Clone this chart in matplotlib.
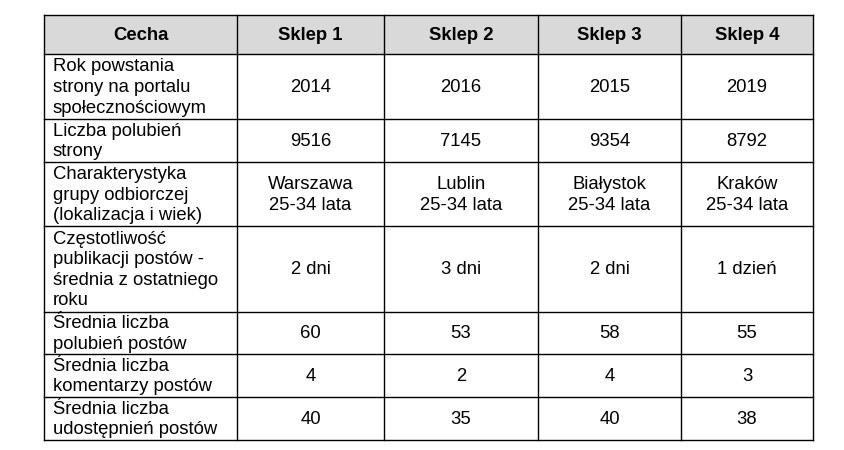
import matplotlib
matplotlib.use("Agg")
import matplotlib.pyplot as plt
from matplotlib.patches import Rectangle

header = ["Cecha", "Sklep 1", "Sklep 2", "Sklep 3", "Sklep 4"]
features = [
    "Rok powstania\nstrony na portalu\nspołecznościowym",
    "Liczba polubień\nstrony",
    "Charakterystyka\ngrupy odbiorczej\n(lokalizacja i wiek)",
    "Częstotliwość\npublikacji postów -\nśrednia z ostatniego\nroku",
    "Średnia liczba\npolubień postów",
    "Średnia liczba\nkomentarzy postów",
    "Średnia liczba\nudostępnień postów",
]
sklep1 = ["2014", "9516", "Warszawa\n25-34 lata", "2 dni", "60", "4", "40"]
sklep2 = ["2016", "7145", "Lublin\n25-34 lata", "3 dni", "53", "2", "35"]
sklep3 = ["2015", "9354", "Białystok\n25-34 lata", "2 dni", "58", "4", "40"]
sklep4 = ["2019", "8792", "Kraków\n25-34 lata", "1 dzień", "55", "3", "38"]

# layout (pixels)
col_edges = [44, 237, 384, 538, 681, 813]
row_edges = [15, 54, 119, 162, 226, 312, 354, 397, 440]

plt.rcParams['font.family'] = ['Liberation Sans', 'DejaVu Sans']
fig = plt.figure(figsize=(8.44, 4.5), dpi=100)
ax = fig.add_axes([0, 0, 1, 1])
ax.set_xlim(0, 844)
ax.set_ylim(450, 0)
ax.axis('off')

# header background
ax.add_patch(Rectangle((col_edges[0], row_edges[0]), col_edges[-1] - col_edges[0],
                       row_edges[1] - row_edges[0], facecolor='#d9d9d9', edgecolor='none'))

lw = 1.0
for x in col_edges:
    ax.plot([x, x], [row_edges[0], row_edges[-1]], color='black', lw=lw, solid_capstyle='projecting')
for y in row_edges:
    ax.plot([col_edges[0], col_edges[-1]], [y, y], color='black', lw=lw, solid_capstyle='projecting')

fs = 13.3
ls = 1.28
# header
for j, h in enumerate(header):
    cx = (col_edges[j] + col_edges[j + 1]) / 2
    cy = (row_edges[0] + row_edges[1]) / 2
    ax.text(cx, cy + 1, h, ha='center', va='center', fontsize=fs, fontweight='bold', color='black')

cols = [sklep1, sklep2, sklep3, sklep4]
for i, feat in enumerate(features):
    cy = (row_edges[i + 1] + row_edges[i + 2]) / 2
    ax.text(col_edges[0] + 9, cy + 1, feat, ha='left', va='center', fontsize=fs,
            linespacing=ls, color='black')
    for j, col in enumerate(cols):
        cx = (col_edges[j + 1] + col_edges[j + 2]) / 2
        ax.text(cx, cy + 1, col[i], ha='center', va='center', fontsize=fs,
                linespacing=ls, color='black', multialignment='center')

fig.savefig('out.png', dpi=100, facecolor='white')
